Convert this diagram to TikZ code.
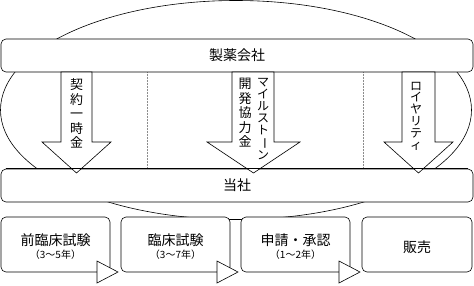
\documentclass[tikz,border=0pt]{standalone}
\usepackage{fontspec}
\usepackage{graphicx}
\setmainfont{Noto Sans CJK JP}
\usetikzlibrary{calc}
\begin{document}
\begin{tikzpicture}[x=1pt,y=-1pt,
  line width=0.6pt,
  every node/.style={inner sep=0pt},
  box/.style={draw, fill=white, rounded corners=5pt},
  blockarrow/.style={draw, fill=white, line join=miter},
  tri/.style={draw, fill=white, line join=miter},
  seprule/.style={densely dotted, black!45, line width=0.5pt},
  maintext/.style={font=\fontsize{14}{16}\selectfont},
  subtext/.style={font=\fontsize{10}{12}\selectfont},
  vkanji/.style={align=center, font=\fontsize{13}{14.5}\selectfont},
  vkana/.style={align=center, font=\fontsize{12}{11.8}\selectfont}]
\useasboundingbox (0,0) rectangle (474,285);
% big ellipse
\draw (236,110) ellipse [x radius=235.5, y radius=109.5];
% separators
\draw[seprule] (147,72) -- (147,169);
\draw[seprule] (363,72) -- (363,169);
% main boxes
\node[box, minimum width=472pt, minimum height=33pt, maintext] (maker) at (237,55.5) {製薬会社};
\node[box, minimum width=472pt, minimum height=33pt, maintext] (tosha) at (237,185.5) {当社};
% block arrows
\draw[blockarrow] (61,72) -- (61,142) -- (42,142) -- (76.5,173) -- (111,142) -- (92,142) -- (92,72) -- cycle;
\draw[blockarrow] (232,72) -- (232,142) -- (207,142) -- (253.5,173) -- (300,142) -- (274,142) -- (274,72) -- cycle;
\draw[blockarrow] (402,72) -- (402,142) -- (384,142) -- (418.5,173) -- (453,142) -- (435,142) -- (435,72) -- cycle;
\draw ([xshift=5pt]tosha.north west) -- ([xshift=-5pt]tosha.north east);
% vertical labels
\node[vkanji] (t1) at (76.5,113.5) {契\\約\\一\\時\\金};
\node[vkana] (t2a) at (263,119) {マ\\イ\\ル\\ス\\ト\\\rotatebox[origin=c]{-90}{ー}\\ン};
\node[vkanji] (t2b) at (245,113) {開\\発\\協\\力\\金};
\node[vkana] (t3) at (416,116) {ロ\\イ\\ヤ\\リ\\テ\\ィ};
% process boxes
\node[box, minimum width=109pt, minimum height=55pt] (b1) at (55.5,244.5) {};
\node[box, minimum width=109pt, minimum height=55pt] (b2) at (175.5,244.5) {};
\node[box, minimum width=109pt, minimum height=55pt] (b3) at (295.5,244.5) {};
\node[box, minimum width=110pt, minimum height=55pt] (b4) at (417,244.5) {};
\draw[tri] (97,261) -- (118,272) -- (97,283) -- cycle;
\draw[tri] (217,261) -- (238,272) -- (217,283) -- cycle;
\draw[tri] (339,261) -- (360,272) -- (339,283) -- cycle;
\node[maintext] (l1) at ($(b1.center)+(0,-4.5)$) {前臨床試験};
\node[subtext] (p1) at ($(b1.center)+(0,10.5)$) {（3～5年）};
\node[maintext] (l2) at ($(b2.center)+(0,-4.5)$) {臨床試験};
\node[subtext] (p2) at ($(b2.center)+(0,10.5)$) {（3～7年）};
\node[maintext] (l3) at ($(b3.center)+(0,-4.5)$) {申請・承認};
\node[subtext] (p3) at ($(b3.center)+(0,10.5)$) {（1～2年）};
\node[maintext] (l4) at ($(b4.center)+(0,2.5)$) {販売};
\end{tikzpicture}
\end{document}
